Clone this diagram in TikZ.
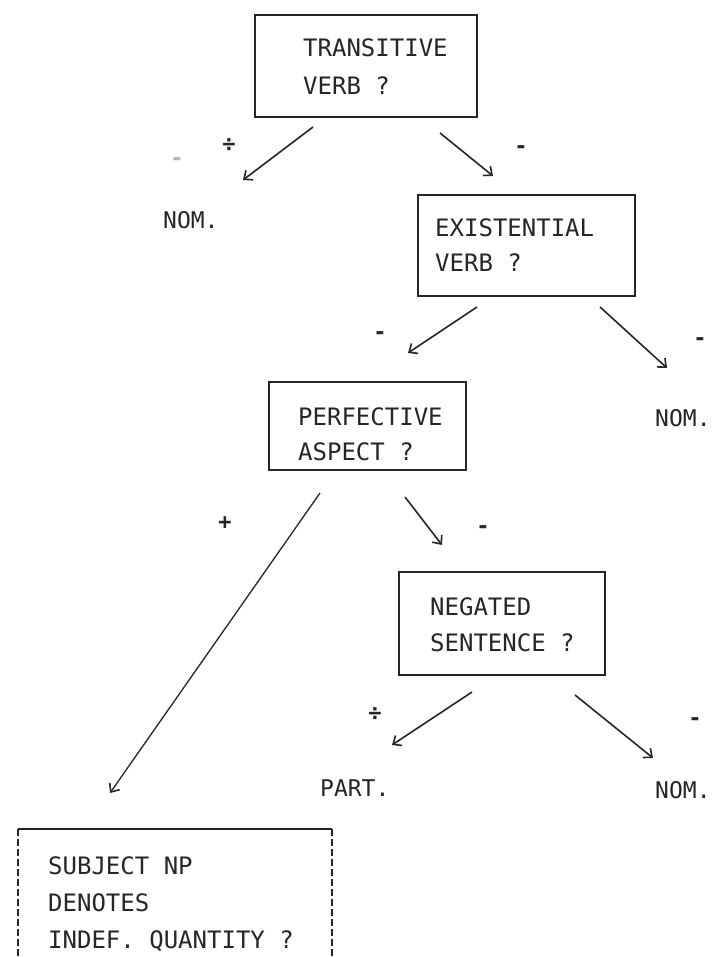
\documentclass[tikz,border=0pt]{standalone}
\usepackage{fontspec}
\newfontfamily\typefont{DejaVu Sans Mono}
\usetikzlibrary{arrows.meta}
\definecolor{ink}{gray}{0.15}
\begin{document}
\begin{tikzpicture}[x=1pt,y=-1pt,
  qbox/.style={draw=ink, line width=1.8pt, inner sep=0pt, outer sep=0pt, rectangle},
  qtext/.style={text=ink, font=\typefont\fontsize{24}{38}\selectfont, align=left, inner sep=0pt, anchor=west},
  leaf/.style={text=ink, font=\typefont\fontsize{23}{28}\selectfont, inner sep=0pt, anchor=west},
  sign/.style={text=ink, font=\typefont\bfseries\fontsize{22}{26}\selectfont, inner sep=0pt},
  arr/.style={draw=ink, line width=1.6pt, -{Straight Barb[length=7pt,width=12pt,line width=1.6pt]}}
]
\clip (0,0) rectangle (713,957);
\fill[white] (0,0) rectangle (713,957);

% boxes
\node[qbox, minimum width=222pt, minimum height=102pt, anchor=north west] (box1) at (255,15) {};
\node[qtext] (t1) at (303,67) {TRANSITIVE\\VERB ?};

\node[qbox, minimum width=217pt, minimum height=101pt, anchor=north west] (box2) at (418,195) {};
\node[qtext, font=\typefont\fontsize{24}{35}\selectfont] (t2) at (435,245) {EXISTENTIAL\\VERB ?};

\node[qbox, minimum width=197pt, minimum height=88pt, anchor=north west] (box3) at (269,382) {};
\node[qtext, font=\typefont\fontsize{24}{35}\selectfont] (t3) at (298,434) {PERFECTIVE\\ASPECT ?};

\node[qbox, minimum width=206pt, minimum height=103pt, anchor=north west] (box4) at (399,572) {};
\node[qtext, font=\typefont\fontsize{24}{36}\selectfont] (t4) at (430,625) {NEGATED\\SENTENCE ?};

% bottom box (cut off by the page edge)
\coordinate (b5tl) at (18,829);
\coordinate (b5tr) at (332,829);
\coordinate (b5bl) at (18,970);
\coordinate (b5br) at (332,970);
\draw[ink, line width=1.8pt] (b5tl) -- (b5tr);
\draw[ink, line width=1.4pt, dash pattern=on 7pt off 3pt] (b5tl) -- (b5bl);
\draw[ink, line width=1.4pt, dash pattern=on 7pt off 3pt] (b5tr) -- (b5br);
\node[qtext, font=\typefont\fontsize{24}{37}\selectfont] (t5) at (48,904) {SUBJECT NP\\DENOTES\\INDEF. QUANTITY ?};

% leaves
\node[leaf] (nom1) at (163,220) {NOM.};
\node[leaf] (nom2) at (655,418) {NOM.};
\node[leaf] (part) at (320,788) {PART.};
\node[leaf] (nom3) at (655,790) {NOM.};

% connector end points
\coordinate (a1s) at (313,127); \coordinate (a1e) at (243,180);
\coordinate (a2s) at (440,133); \coordinate (a2e) at (493,176);
\coordinate (a3s) at (477,307); \coordinate (a3e) at (408,353);
\coordinate (a4s) at (600,307); \coordinate (a4e) at (667,368);
\coordinate (a5s) at (320,493); \coordinate (a5e) at (110,793);
\coordinate (a6s) at (405,497); \coordinate (a6e) at (442,545);
\coordinate (a7s) at (472,692); \coordinate (a7e) at (392,745);
\coordinate (a8s) at (575,695); \coordinate (a8e) at (653,758);

\draw[arr] (a1s) -- (a1e);
\draw[arr] (a2s) -- (a2e);
\draw[arr] (a3s) -- (a3e);
\draw[arr] (a4s) -- (a4e);
\draw[arr, line width=1.3pt] (a5s) -- (a5e);
\draw[arr] (a6s) -- (a6e);
\draw[arr] (a7s) -- (a7e);
\draw[arr] (a8s) -- (a8e);

% signs
\node[sign, text=black!30] (s0) at (177,162) {-};
\node[sign] (s1) at (229,145) {÷};
\node[sign] (s2) at (521,150) {-};
\node[sign] (s3) at (380,336) {-};
\node[sign] (s4) at (700,342) {-};
\node[sign] (s5) at (225,523) {+};
\node[sign] (s6) at (483,530) {-};
\node[sign] (s7) at (375,714) {÷};
\node[sign] (s8) at (695,722) {-};
\end{tikzpicture}
\end{document}
